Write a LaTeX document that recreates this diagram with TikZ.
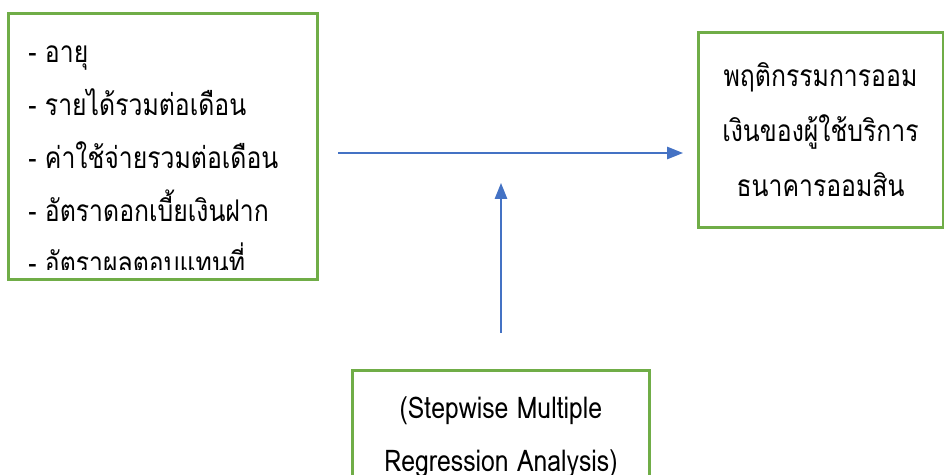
\documentclass[tikz,border=0pt]{standalone}
\usepackage{fontspec}
\newfontfamily\thaifont[Script=Thai, FakeStretch=0.83]{Loma}
\usetikzlibrary{arrows.meta}
\definecolor{boxgreen}{HTML}{70AD47}
\definecolor{arrowblue}{HTML}{4472C4}

\begin{document}
\begin{tikzpicture}[x=0.02cm, y=-0.02cm, >={Triangle[length=9pt,width=7pt]},
	box/.style={rectangle, draw=boxgreen, line width=1.7pt, fill=white},
	txt/.style={inner sep=0pt, font=\thaifont\fontsize{17}{30}\selectfont},
	link/.style={->, draw=arrowblue, fill=arrowblue, line width=0.85pt}]
	\useasboundingbox (0,0) rectangle (945,474);
	\node [box, minimum width=6.2cm, minimum height=5.34cm] (factors) at (163,146.5) {};
	\node [box, minimum width=4.9cm, minimum height=3.92cm] (saving) at (820.5,130) {};
	\node [box, minimum width=5.96cm, minimum height=3.2cm] (method) at (501,450) {};
	\begin{scope}
		\clip (factors.north west) rectangle ([yshift=0.24cm]factors.south east);
		\node [txt, align=left, anchor=west] (factorlist) at (28,160) {- อายุ\\- รายได้รวมต่อเดือน\\- ค่าใช้จ่ายรวมต่อเดือน\\- อัตราดอกเบี้ยเงินฝาก\\- อัตราผลตอบแทนที่};
	\end{scope}
	\node [txt, align=center, font=\thaifont\fontsize{17}{31.3}\selectfont] (savingtext) at (820.5,130) {พฤติกรรมการออม\\เงินของผู้ใช้บริการ\\ธนาคารออมสิน};
	\node [txt, align=center] (methodtext) at (501,437) {(Stepwise Multiple\\Regression Analysis)};
	\coordinate (hstart) at (338,153);
	\coordinate (hend) at (683,153);
	\coordinate (vtip) at (501,183);
	\draw [link] (hstart) -- (hend);
	\draw [link, shorten <=0.72cm] (method.north) -- (vtip);
\end{tikzpicture}
\end{document}
